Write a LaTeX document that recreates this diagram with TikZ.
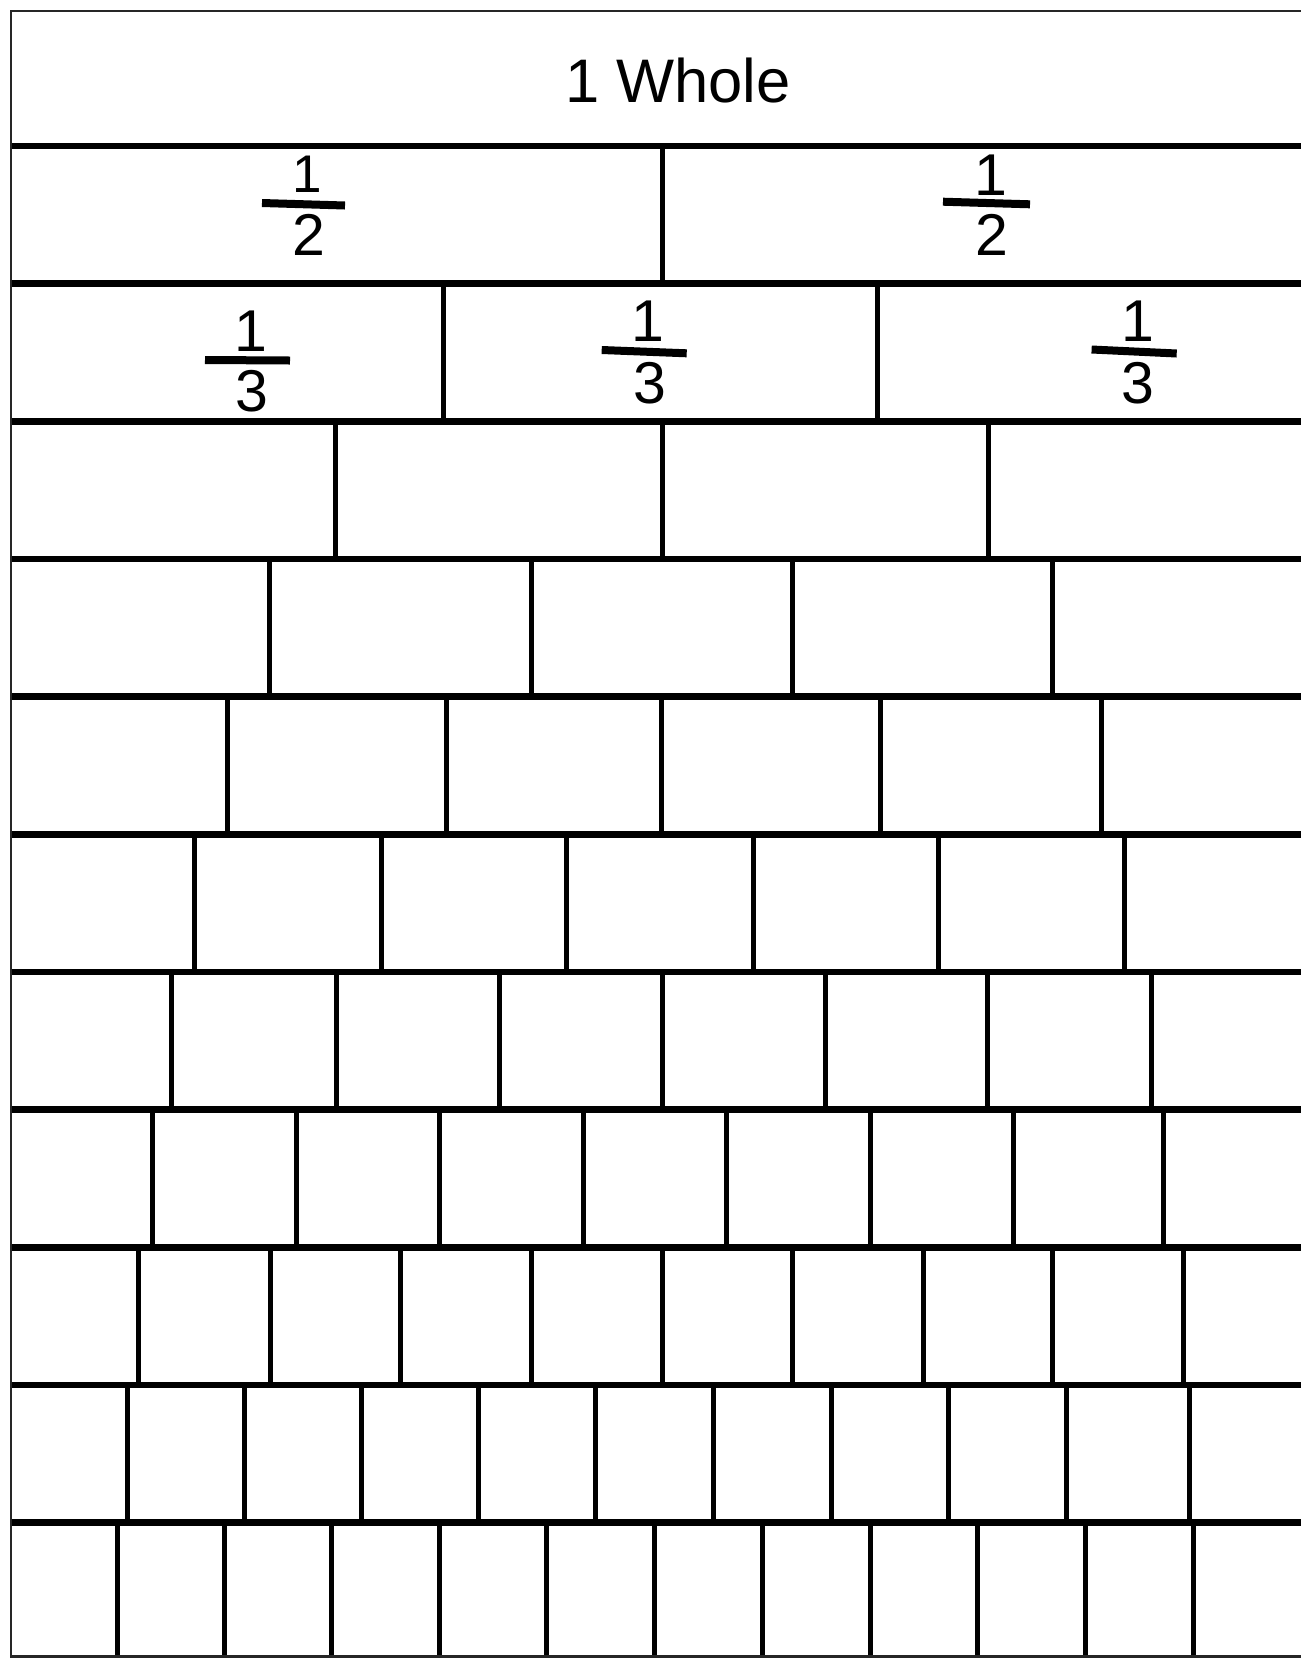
\documentclass[tikz,border=0pt]{standalone}
\usepackage{fontspec}
\setmainfont{Liberation Sans}
\begin{document}
\begin{tikzpicture}[x=1pt,y=-1pt,
  hline/.style={line width=6.5pt},
  vline/.style={line width=5pt},
  border/.style={line width=2.6pt, black!85},
  fracbar/.style={line width=8pt},
  digit/.style={inner sep=0pt, anchor=base, font=\fontsize{59}{62}\selectfont},
  smalldigit/.style={digit, font=\fontsize{53}{56}\selectfont},
  lbl/.style={inner sep=0pt, anchor=base, font=\fontsize{61.5}{64}\selectfont}]
\useasboundingbox (0,0) rectangle (1301,1658);
\fill[white] (0,0) rectangle (1301,1658);
\clip (0,0) rectangle (1301,1658);
% vertical divisions, row by row
\foreach \ytop/\ybot/\xs in {
  146/283.7/{662},
  283.7/421.3/{443.5,877.5},
  421.3/559/{335.3,662,988},
  559/696.7/{269.7,531,792.4,1052},
  696.7/834.4/{227.3,446.4,661.3,880.4,1101.9},
  834.4/972/{194.6,381.8,566.9,753.1,938.2,1124.3},
  972/1109.7/{171.3,336.3,499.2,662.1,825,987.9,1151.8},
  1109.7/1247.4/{152.7,296.2,439.8,583.3,726.9,870.4,1013.1,1163.3},
  1247.4/1385/{138.6,270.8,400.9,531,662.1,792.2,923.4,1052.4,1183.6},
  1385/1522.7/{127,244,361,478,595.8,713.6,831.4,948.4,1066.2,1189},
  1522.7/1657/{117,224,331.9,439.8,546.8,654.7,762.5,870.4,977.5,1085.3,1193.2}}
{
  \foreach \x in \xs {\draw[vline] (\x,\ytop) -- (\x,\ybot);}
}
% horizontal row lines
\foreach \y in {146,283.7,421.3,559,696.7,834.4,972,1109.7,1247.4,1385,1522.7}
  {\draw[hline] (11,\y) -- (1320,\y);}
% outer border (thin)
\draw[border] (1320,11) -- (11,11) -- (11,1656.5) -- (1320,1656.5);
% labels
\node[lbl] (whole) at (678,102.3) {1 Whole};
% halves
\node[smalldigit] (h1n) at (307,192.7) {1};
\draw[fracbar] (262,203) -- (345,205.5);
\node[digit] (h1d) at (309,255) {2};
\node[digit] (h2n) at (991,195) {1};
\draw[fracbar] (943,201.7) -- (1030,204.3);
\node[digit] (h2d) at (991.5,255) {2};
% thirds
\node[digit] (t1n) at (251,351.7) {1};
\draw[fracbar] (205,360) -- (290,360.5);
\node[digit] (t1d) at (252,411) {3};
\node[digit] (t2n) at (648,341.7) {1};
\draw[fracbar] (601.7,350) -- (686.7,353.3);
\node[digit] (t2d) at (650,403) {3};
\node[digit] (t3n) at (1137.5,341.7) {1};
\draw[fracbar] (1091.6,349.5) -- (1176.7,353.5);
\node[digit] (t3d) at (1137.7,403) {3};
\end{tikzpicture}
\end{document}
